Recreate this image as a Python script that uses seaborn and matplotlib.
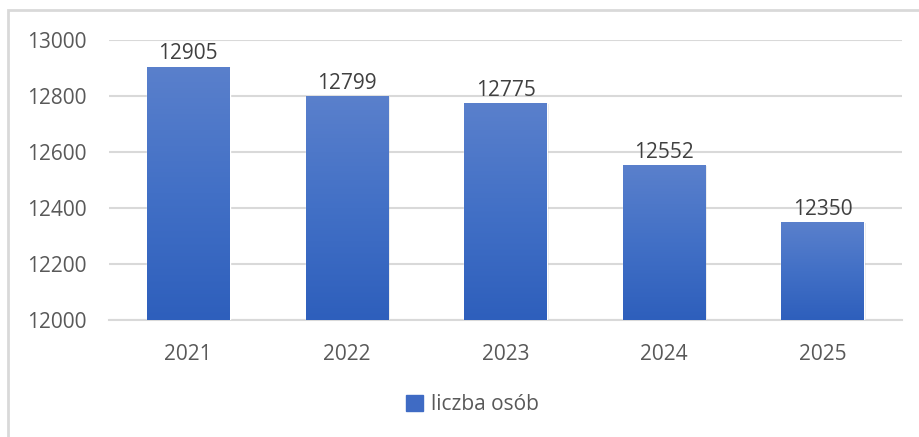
import matplotlib
matplotlib.use("Agg")
import matplotlib.pyplot as plt
import matplotlib.patches as mpatches
from matplotlib.colors import LinearSegmentedColormap
import numpy as np
import pandas as pd
import seaborn as sns

years = ["2021", "2022", "2023", "2024", "2025"]
values = [12905, 12799, 12775, 12552, 12350]
series_name = "liczba osób"
y_ticks = [12000, 12200, 12400, 12600, 12800, 13000]

sns.set_theme(style="white")
plt.rcParams['font.family'] = ['Open Sans', 'DejaVu Sans']

df = pd.DataFrame({"year": years, "value": values})

fig = plt.figure(figsize=(9.2, 4.37), dpi=100)
ax = fig.add_axes([109/920, 1-320/437, (902-109)/920, (320-40)/437])

sns.barplot(data=df, x="year", y="value", ax=ax, color="#3f6bc4", width=0.52, zorder=3)

ax.set_ylim(12000, 13000)
ax.set_yticks(y_ticks)
ax.set_yticklabels([str(t) for t in y_ticks])
ax.yaxis.grid(True, color="#d9d9d9", linewidth=1.5, zorder=0)
ax.set_axisbelow(True)
for s in ["top", "right", "left"]:
    ax.spines[s].set_visible(False)
ax.spines["bottom"].set_color("#d9d9d9")
ax.spines["bottom"].set_linewidth(1.5)
ax.tick_params(axis="both", length=0, labelsize=15, colors="#595959")
ax.tick_params(axis="y", pad=16)
ax.tick_params(axis="x", pad=17)
ax.set_xlabel("")
ax.set_ylabel("")

cmap = LinearSegmentedColormap.from_list("g", ["#2e5fbc", "#4270c6", "#5a80cc"])
grad = np.linspace(0, 1, 256).reshape(-1, 1)
for p, v in zip(ax.patches, values):
    x0 = p.get_x()
    w = p.get_width()
    sh = mpatches.Rectangle((x0 + 0.012, 12000), w, v - 12000 - 3, color="#000000", alpha=0.08, zorder=2, linewidth=0)
    ax.add_patch(sh)
    im = ax.imshow(grad, extent=[x0, x0 + w, 12000, v], origin="lower", cmap=cmap, aspect="auto", zorder=3.5)
    im.set_clip_path(p)
    ax.text(x0 + w/2, v + 8, str(v), ha="center", va="bottom", fontsize=15, color="#404040", zorder=5)
ax.set_xlim(-0.5, len(years) - 0.5)
ax.set_ylim(12000, 13000)

handle = mpatches.Patch(color="#3f6bc4", label=series_name)
fig.legend(handles=[handle], loc="center", bbox_to_anchor=(0.514, 1-405/437), frameon=False,
           fontsize=15, labelcolor="#595959", handlelength=0.8, handleheight=0.8, handletextpad=0.4)

frame = mpatches.Rectangle((8/920, -0.05), 1.1, 1 - 10/437 + 0.05, transform=fig.transFigure,
                           fill=False, edgecolor="#d9d9d9", linewidth=2, zorder=0)
fig.patches.append(frame)

fig.savefig("out.png", dpi=100)
